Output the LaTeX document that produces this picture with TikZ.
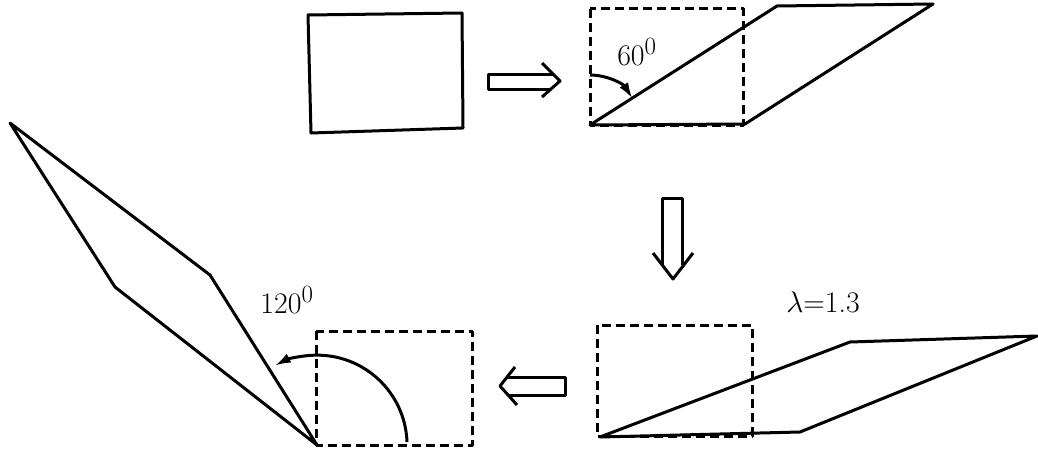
\documentclass[tikz,border=0pt]{standalone}
\usepackage{graphicx}
\usepackage{tikz}
\usetikzlibrary{arrows.meta}

\begin{document}
\begin{tikzpicture}[x=1pt, y=-1pt, line width=3pt, line join=round,
        dashbox/.style={dash pattern=on 9pt off 5pt},
        turn/.style={-{Latex[length=16pt,width=10pt]}},
        anglab/.style={font=\Huge}]
        \useasboundingbox (0,0) rectangle (1038,452);

        % Original block
        \draw (308,15) -- (462,13) -- (463,128) -- (311,133) -- cycle;

        % Arrow to the right
        \draw (553,74) -- (488,74) -- (488,89) -- (551,89);
        \draw (542,63) -- (560,81) -- (542,97);

        % Shear by 60 deg
        \draw[dashbox] (590,9) rectangle (743,125);
        \draw (590,125) -- (745,124) -- (933,4) -- (777,6) -- cycle;
        \draw[turn] (590,75) arc[start angle=-90, end angle=-32, radius=50];
        \node[anglab] (ang60) at (637,52) {\scalebox{1.2}{$60^0$}};

        % Arrow downwards
        \draw (662,265) -- (662,198) -- (682,198) -- (682,265);
        \draw (653,253) -- (673,279) -- (693,253);

        % Stretch by lambda
        \draw[dashbox] (597,325) rectangle (752,436);
        \draw (600,437) -- (800,432) -- (1037,336) -- (850,342) -- cycle;
        \node[anglab] (lam) at (823,302) {\scalebox{1.2}{$\lambda$=1.3}};

        % Arrow to the left
        \draw (507,377) -- (565,377) -- (565,395) -- (508,395);
        \draw (515,367) -- (500,386) -- (517,405);

        % Rotate by 120 deg
        \draw[dashbox] (316,331) rectangle (472,445);
        \draw (317,445) -- (210,275) -- (10,123) -- (115,287) -- cycle;
        \draw[turn] (407,442) arc[start angle=-2, end angle=-118, radius=90];
        \node[anglab] (ang120) at (287,300) {\scalebox{1.2}{$120^0$}};
    \end{tikzpicture}
\end{document}
